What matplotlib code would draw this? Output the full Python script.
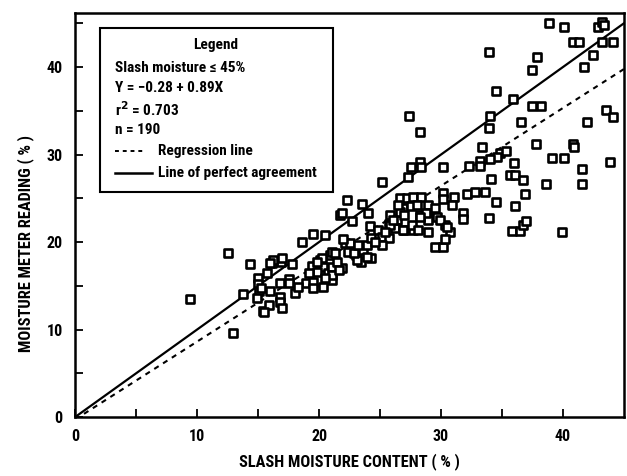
import numpy as np
import matplotlib
matplotlib.use("Agg")
import matplotlib.pyplot as plt
from matplotlib import font_manager
from matplotlib.patches import Rectangle
from matplotlib.lines import Line2D

# use a narrow face if one is there, the scan uses a condensed bold font
names = {f.name for f in font_manager.fontManager.ttflist}
fams = [f for f in ['Liberation Sans Narrow', 'DejaVu Sans Condensed', 'Roboto Condensed',
                    'Open Sans Condensed', 'Liberation Sans'] if f in names]
plt.rcParams['font.family'] = fams + ['DejaVu Sans']
plt.rcParams['font.weight'] = 'bold'
plt.rcParams['axes.labelweight'] = 'bold'

# slash moisture content (%)
slash_moisture = [
    9.4, 12.5, 12.9, 13.8, 14.3, 15.0, 15.0, 15.1, 14.9, 15.7,
    16.1, 16.0, 15.4, 15.9, 16.8, 16.8, 16.8, 17.0, 16.9, 17.8,
    17.5, 17.5, 18.0, 18.6, 18.9, 19.5, 20.5, 19.4, 20.1, 20.3,
    20.7, 19.8, 19.5, 19.5, 20.3, 20.9, 21.1, 21.9, 21.1, 21.1,
    21.5, 21.7, 22.3, 23.5, 24.0, 21.9, 22.7, 22.1, 22.5, 22.4,
    23.0, 23.4, 23.6, 23.9, 24.3, 21.1, 23.9, 24.2, 24.8, 24.3,
    25.2, 25.7, 25.2, 25.8, 26.4, 25.7, 26.2, 27.0, 27.7, 27.6,
    26.9, 28.3, 28.9, 29.1, 28.9, 30.3, 30.7, 29.5, 30.2, 30.3,
    31.8, 31.8, 33.9, 34.5, 36.1, 35.8, 36.5, 36.7, 37.0, 39.9,
    25.2, 27.3, 27.5, 28.3, 28.4, 30.2, 30.2, 30.2, 31.1, 32.1,
    32.8, 33.6, 26.6, 27.2, 27.7, 28.4, 27.5, 28.0, 28.9, 26.6,
    28.8, 29.7, 29.9, 30.5, 26.9, 28.1, 25.8, 26.1, 38.9, 40.1,
    42.9, 43.2, 43.4, 40.8, 41.3, 43.2, 44.1, 33.9, 37.9, 37.5,
    42.5, 41.7, 34.5, 35.9, 37.5, 38.2, 27.4, 28.3, 34.0, 33.9,
    36.6, 42.0, 43.5, 44.1, 37.8, 40.8, 40.9, 39.1, 40.1, 43.9,
    41.6, 41.6, 38.6, 33.4, 34.8, 35.3, 34.6, 34.0, 33.2, 33.2,
    32.3, 36.0, 34.1, 35.7, 36.1, 36.7, 36.9, 28.3, 17.0, 16.2,
    20.2, 21.3, 23.1, 22.9, 19.8, 20.5, 21.6, 19.2, 26.5, 27.0,
    29.5, 30.9, 25.4, 18.3, 15.5, 15.2, 16.0, 23.2, 22.0, 24.6,
]

# moisture meter reading (%)
meter_reading = [
    13.5, 18.7, 9.6, 14.1, 17.5, 15.9, 15.2, 14.4, 13.6, 16.5,
    17.6, 14.4, 12.1, 12.8, 15.3, 13.7, 13.1, 12.5, 17.7, 17.5,
    15.8, 15.3, 14.2, 20.0, 15.3, 20.9, 20.8, 17.3, 17.9, 17.1,
    16.5, 16.6, 15.4, 14.7, 14.9, 18.5, 17.1, 17.0, 15.7, 16.2,
    17.7, 23.1, 24.8, 24.3, 23.3, 23.3, 22.4, 19.9, 19.9, 18.9,
    18.5, 17.7, 19.1, 19.7, 18.2, 18.9, 18.3, 21.8, 21.4, 20.5,
    20.6, 20.5, 19.7, 23.1, 22.5, 22.1, 21.6, 21.4, 21.4, 21.9,
    23.9, 23.1, 22.5, 23.7, 21.1, 21.9, 21.1, 19.4, 19.4, 20.3,
    23.3, 22.6, 22.7, 24.6, 24.1, 21.3, 21.3, 21.9, 22.4, 21.1,
    26.9, 27.4, 28.6, 29.1, 28.6, 28.6, 25.6, 24.9, 25.1, 25.5,
    25.7, 25.7, 25.0, 25.0, 25.1, 25.1, 24.1, 24.2, 24.2, 23.4,
    23.3, 22.9, 22.5, 21.7, 21.4, 21.4, 21.9, 22.5, 45.0, 44.6,
    44.6, 45.1, 44.8, 42.9, 42.9, 42.9, 42.9, 41.7, 41.1, 39.7,
    41.4, 40.0, 37.3, 36.3, 35.5, 35.5, 34.4, 32.6, 34.4, 33.0,
    33.7, 33.7, 35.1, 34.3, 31.2, 31.2, 30.9, 29.6, 29.6, 29.1,
    28.3, 26.6, 26.6, 30.9, 30.2, 30.4, 29.7, 29.5, 29.3, 28.7,
    28.7, 29.0, 27.2, 27.7, 27.7, 27.1, 25.5, 22.9, 18.2, 17.9,
    18.2, 18.7, 17.9, 18.7, 17.7, 15.9, 16.8, 16.5, 24.2, 23.1,
    23.9, 24.2, 21.1, 14.9, 12.0, 14.7, 17.6, 19.7, 20.4, 20.0,
]

intercept, slope = -0.28, 0.89
legend_lines = ['Slash moisture \u2264 45%', 'Y = \u22120.28 + 0.89X',
                'r$^\\mathbf{2}$ = 0.703', 'n = 190']


def main():
    fig = plt.figure(figsize=(6.27, 4.76), dpi=100)
    ax = fig.add_axes([0.12, 0.124, 0.875, 0.849])

    xs = np.array([0, 45])
    ax.plot(xs, xs, color='black', lw=1.6, zorder=2)
    ax.plot(xs, intercept + slope * xs, color='black', lw=1.5,
            dashes=(2.5, 2.5), zorder=2)
    ax.scatter(slash_moisture, meter_reading, s=28, marker='s',
               facecolors='white', edgecolors='black', linewidths=1.9, zorder=3)

    ax.set_xlim(0, 45)
    ax.set_ylim(0, 46.2)
    ax.set_xticks(np.arange(0, 45, 5), minor=True)
    ax.set_yticks(np.arange(0, 46, 5), minor=True)
    ax.set_xticks([0, 10, 20, 30, 40])
    ax.set_yticks([0, 10, 20, 30, 40])
    ax.tick_params(which='both', direction='in', width=1.3, length=6,
                   labelsize=11.5, pad=9)
    for s in ax.spines.values():
        s.set_linewidth(1.8)

    ax.set_xlabel('SLASH MOISTURE CONTENT ( % )', fontsize=11.8, labelpad=6)
    ax.set_ylabel('MOISTURE METER READING ( % )', fontsize=11.8)
    ax.yaxis.set_label_coords(-0.075, 0.43)

    # hand-made legend box
    ax.add_patch(Rectangle((0.046, 0.557), 0.424, 0.406, transform=ax.transAxes,
                           facecolor='white', edgecolor='black', lw=1.5, zorder=4))
    ax.text(0.256, 0.92, 'Legend', transform=ax.transAxes, ha='center',
            va='center', fontsize=11, zorder=5)
    ty = [0.863, 0.813, 0.76, 0.71]
    for t, y in zip(legend_lines, ty):
        ax.text(0.073, y, t, transform=ax.transAxes, va='center',
                fontsize=11, zorder=5)
    ax.add_line(Line2D([0.073, 0.128], [0.657, 0.657], transform=ax.transAxes,
                       color='black', lw=1.4, dashes=(2, 2), zorder=5))
    ax.add_line(Line2D([0.073, 0.14], [0.603, 0.603], transform=ax.transAxes,
                       color='black', lw=1.8, zorder=5))
    ax.text(0.15, 0.657, 'Regression line', transform=ax.transAxes,
            va='center', fontsize=11, zorder=5)
    ax.text(0.15, 0.603, 'Line of perfect agreement', transform=ax.transAxes,
            va='center', fontsize=11, zorder=5)

    fig.savefig('out.png', dpi=100)


if __name__ == "__main__":
    main()
